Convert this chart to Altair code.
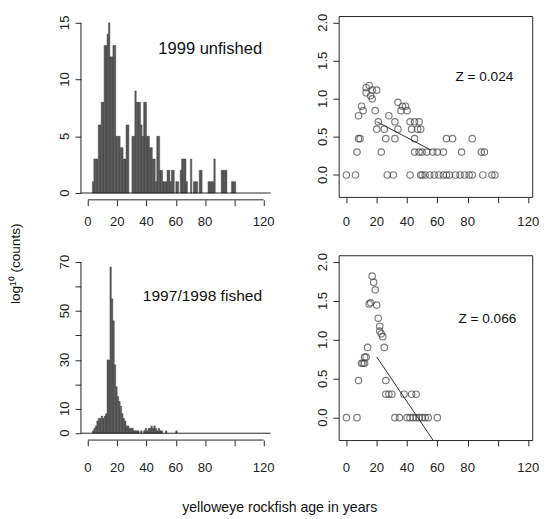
import altair as alt
import pandas as pd
import numpy as np

FONT = "Liberation Sans"
INK = "#222222"

# ---------------- data ----------------
# 1999 unfished: one-year age bins starting at age 3
unfished_ages = list(range(3, 101))
unfished_counts = [
    1, 3, 3, 3, 6, 6, 8, 8, 13, 13,
    14, 15, 12, 12, 13, 13, 5, 5, 5, 4,
    4, 3, 3, 6, 6, 0, 0, 5, 5, 9,
    8, 8, 8, 6, 5, 8, 8, 5, 5, 4,
    4, 3, 3, 1, 5, 5, 2, 2, 1, 1,
    1, 2, 2, 1, 2, 2, 0, 1, 1, 0,
    2, 3, 3, 3, 1, 0, 0, 3, 0, 1,
    1, 1, 0, 2, 2, 0, 0, 0, 0, 1,
    1, 1, 1, 3, 0, 0, 0, 0, 2, 2,
    2, 2, 0, 0, 0, 1, 1, 1,
]

# 1997/1998 fished: one-year age bins starting at age 3
fished_ages = list(range(3, 61))
fished_counts = [
    1, 2, 3, 5, 6, 6, 7, 6, 7, 8,
    30, 30, 68, 55, 46, 28, 19, 15, 13, 11,
    8, 6, 5, 3, 3, 2, 2, 2, 1, 1,
    1, 1, 0, 1, 0, 1, 2, 1, 2, 2,
    3, 2, 3, 2, 1, 2, 1, 1, 0, 0,
    1, 0, 0, 0, 0, 0, 0, 1,
]

# catch-curve points (age, count) as plotted on log10 scale
unf_pt_ages = [0, 6, 27, 31, 42, 49, 50, 52, 55, 58, 61, 64, 66, 68, 72, 75, 78, 81, 83, 90, 96, 98,
               7, 23, 45, 48, 50, 53, 57, 60, 64, 76, 89, 91,
               8, 9, 26, 32, 45, 66, 70, 83,
               20, 25, 34, 43, 47, 49,
               21, 32, 42, 45, 48,
               8, 28,
               11, 19, 36, 40,
               10, 37, 39,
               34, 17, 16, 13, 17, 20, 13, 15]
unf_pt_counts = [1] * 22 + [2] * 12 + [3] * 8 + [4] * 6 + [5] * 5 + [6] * 2 + [7] * 4 + [8] * 3 + \
                [9, 10, 11, 12, 13, 13, 14, 15]

fis_pt_ages = [0, 7, 32, 35, 40, 42, 44, 46, 48, 50, 52, 54, 60,
               26, 28, 30, 38, 43, 46,
               8, 26,
               10, 11, 12,
               12, 13,
               14, 25,
               24, 23, 22, 22, 21, 20, 15, 16, 19, 18, 17]
fis_pt_counts = [1] * 13 + [2] * 6 + [3] * 2 + [5] * 3 + [6] * 2 + [8] * 2 + \
                [11, 12, 13, 15, 19, 28, 29, 30, 44, 55, 66]

# fitted catch-curve segments (age, log10 count)
unf_fit_age = [20, 56]
unf_fit_log = [0.70, 0.325]
fis_fit_age = [20, 60]
fis_fit_log = [0.78, -0.37]

# axis ticks and their printed labels (R drops labels that would collide)
X_TICKS = [0, 20, 40, 60, 80, 100, 120]
X_LABELS = ["0", "20", "40", "60", "80", "", "120"]
UNF_Y_TICKS = [0, 5, 10, 15]
UNF_Y_LABELS = ["0", "5", "10", "15"]
FIS_Y_TICKS = [0, 10, 20, 30, 40, 50, 60, 70]
FIS_Y_LABELS = ["0", "10", "", "30", "", "50", "", "70"]
LOG_TICKS = [0.0, 0.5, 1.0, 1.5, 2.0]
LOG_LABELS = ["0.0", "0.5", "1.0", "1.5", "2.0"]

X_DOM_L = [-4.8, 124.8]
X_DOM_R = [-5.1, 122.6]
LOG_DOM = [-0.288, 2.088]

W_L, W_R = 195, 199
H_T, H_B = 189, 190
TICK_FS = 13.5


def axis_obj(values):
    return alt.Axis(values=values, labels=False, title=None, grid=False, domain=False,
                    tickSize=6, tickColor=INK, tickWidth=1)


def tick_labels(xsc, ysc, xax, yax, xt, xl, yt, yl, height, xgap):
    xdf = pd.DataFrame({"v": xt, "lab": xl})
    ydf = pd.DataFrame({"v": yt, "lab": yl})
    xlab = alt.Chart(xdf).mark_text(baseline="top", align="center", fontSize=TICK_FS,
                                    font=FONT, color=INK).encode(
        x=alt.X("v:Q", scale=xsc, axis=xax), y=alt.value(height + xgap), text="lab:N")
    ylab = alt.Chart(ydf).mark_text(baseline="bottom", align="center", angle=270,
                                    fontSize=TICK_FS, font=FONT, color=INK).encode(
        y=alt.Y("v:Q", scale=ysc, axis=yax), x=alt.value(-9), text="lab:N")
    return xlab, ylab


def hist_panel(ages, counts, y_dom, y_ticks, y_labels, label, label_xy, fs, height, xgap):
    df = pd.DataFrame({"age": ages, "count": counts})
    df = df[df["count"] > 0].copy()
    df["age_end"] = df["age"] + 1
    xsc = alt.Scale(domain=X_DOM_L, nice=False, zero=False)
    ysc = alt.Scale(domain=y_dom, nice=False, zero=False)
    xax = axis_obj(X_TICKS)
    yax = axis_obj(y_ticks)
    bars = alt.Chart(df).mark_rect(fill="#646464", stroke="#1c1c1c", strokeWidth=0.35).encode(
        x=alt.X("age:Q", scale=xsc, axis=xax),
        x2="age_end:Q",
        y=alt.Y("count:Q", scale=ysc, axis=yax),
        y2=alt.datum(0),
    )
    base = alt.Chart(pd.DataFrame({"v": [0]})).mark_rule(color=INK, strokeWidth=1).encode(
        y=alt.YDatum(0, axis=yax, scale=ysc))
    xline = alt.Chart(pd.DataFrame({"a": [X_TICKS[0]], "b": [X_TICKS[-1]]})).mark_rule(
        color=INK, strokeWidth=1).encode(x=alt.X("a:Q", scale=xsc, axis=xax), x2="b:Q",
                                         y=alt.YDatum(y_dom[0], axis=yax, scale=ysc))
    yline = alt.Chart(pd.DataFrame({"a": [y_ticks[0]], "b": [y_ticks[-1]]})).mark_rule(
        color=INK, strokeWidth=1).encode(y=alt.Y("a:Q", scale=ysc, axis=yax), y2="b:Q",
                                         x=alt.XDatum(X_DOM_L[0], axis=xax, scale=xsc))
    txt = alt.Chart(pd.DataFrame({"t": [label]})).mark_text(
        align="right", baseline="middle", fontSize=fs, font=FONT, color="#111").encode(
        x=alt.XDatum(label_xy[0], axis=xax, scale=xsc),
        y=alt.YDatum(label_xy[1], axis=yax, scale=ysc), text="t:N")
    xlab, ylab = tick_labels(xsc, ysc, xax, yax, X_TICKS, X_LABELS, y_ticks, y_labels,
                             height, xgap)
    return alt.layer(bars, base, xline, yline, txt, xlab, ylab).properties(
        width=W_L, height=height, view=alt.ViewBackground(stroke=None))


def scatter_panel(ages, counts, fit_a, fit_l, label, label_xy, height, xgap):
    df = pd.DataFrame({"age": ages, "logc": np.log10(np.array(counts, dtype=float))})
    xsc = alt.Scale(domain=X_DOM_R, nice=False, zero=False)
    ysc = alt.Scale(domain=LOG_DOM, nice=False, zero=False)
    xax = axis_obj(X_TICKS)
    yax = axis_obj(LOG_TICKS)
    pts = alt.Chart(df).mark_point(shape="circle", filled=False, size=44, color="#444444",
                                   strokeWidth=1.2).encode(
        x=alt.X("age:Q", scale=xsc, axis=xax),
        y=alt.Y("logc:Q", scale=ysc, axis=yax),
    )
    fit = alt.Chart(pd.DataFrame({"age": fit_a, "logc": fit_l})).mark_line(
        color="#2a2a2a", strokeWidth=1, clip=True).encode(
        x=alt.X("age:Q", scale=xsc, axis=xax), y=alt.Y("logc:Q", scale=ysc, axis=yax))
    txt = alt.Chart(pd.DataFrame({"t": [label]})).mark_text(
        align="center", baseline="middle", fontSize=14, font=FONT, color="#111").encode(
        x=alt.XDatum(label_xy[0], axis=xax, scale=xsc),
        y=alt.YDatum(label_xy[1], axis=yax, scale=ysc), text="t:N")
    xlab, ylab = tick_labels(xsc, ysc, xax, yax, X_TICKS, X_LABELS, LOG_TICKS, LOG_LABELS,
                             height, xgap)
    return alt.layer(pts, fit, txt, xlab, ylab).properties(
        width=W_R, height=height, view=alt.ViewBackground(stroke=INK, strokeWidth=1))


tl = hist_panel(unfished_ages, unfished_counts, [-0.6, 15.6], UNF_Y_TICKS, UNF_Y_LABELS,
                "1999 unfished", (119.0, 12.7), 17, H_T, 16)
tr = scatter_panel(unf_pt_ages, unf_pt_counts, unf_fit_age, unf_fit_log,
                   "Z = 0.024", (91, 1.29), 186, 19)
bl = hist_panel(fished_ages, fished_counts, [-2.8, 72.8], FIS_Y_TICKS, FIS_Y_LABELS,
                "1997/1998 fished", (119.0, 56), 16, H_B, 22)
br = scatter_panel(fis_pt_ages, fis_pt_counts, fis_fit_age, fis_fit_log,
                   "Z = 0.066", (93, 1.27), H_B, 22)

row1 = alt.hconcat(tl, tr, spacing=70, bounds="flush")
row2 = alt.hconcat(bl, br, spacing=70, bounds="flush")
inner = alt.vconcat(row1, row2, spacing=24,
                    title=alt.TitleParams("yelloweye rockfish age in years", orient="bottom",
                                          anchor="middle", fontSize=14.5, font=FONT,
                                          fontWeight="normal", color="#111", offset=27,
                                          dx=-20))
chart = alt.hconcat(inner,
                    title=alt.TitleParams("log\u00b9\u2070 (counts)", orient="left",
                                          anchor="middle", fontSize=14, font=FONT,
                                          fontWeight="normal", color="#111", offset=37)
                    ).properties(
    padding={"left": 0, "top": -2, "right": 0, "bottom": 0},
).configure_view(stroke=None)

chart.save("out.html", embed_options={"renderer": "svg", "actions": False})
